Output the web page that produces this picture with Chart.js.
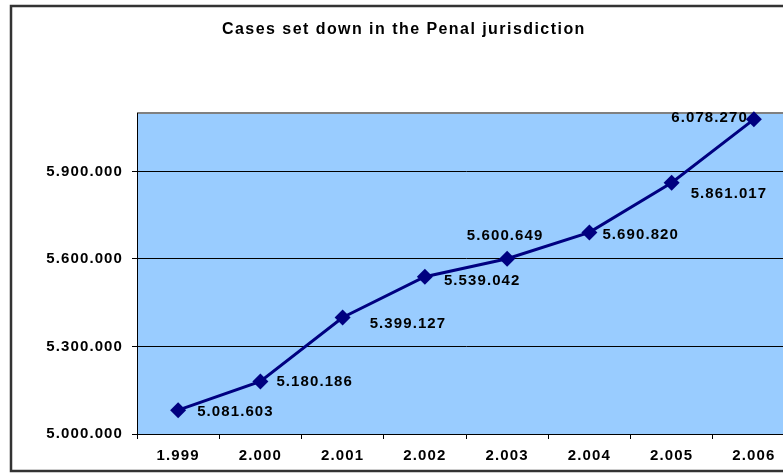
<!DOCTYPE html>
<html>
<head>
<meta charset="utf-8">
<script src="https://cdn.jsdelivr.net/npm/chart.js@4"></script>
<style>
  html, body { margin: 0; padding: 0; background: #ffffff; overflow: hidden; }
  #wrap { position: absolute; left: 0; top: 0; width: 820px; height: 474px; }
</style>
</head>
<body>
<div id="wrap"><canvas id="penal-chart" width="820" height="474"></canvas></div>
<script>
// Data
const years = ['1.999', '2.000', '2.001', '2.002', '2.003', '2.004', '2.005', '2.006'];
const casesSetDown = [5081603, 5180186, 5399127, 5539042, 5600649, 5690820, 5861017, 6078270];
const yTicks = [5000000, 5300000, 5600000, 5900000];
const chartTitle = 'Cases set down in the Penal jurisdiction';

// where each value label sits next to its point: [dx, dy, align]
const labelPlace = [
    [19, 2, 'left'], [16, 0, 'left'], [27, 6, 'left'], [19, 4, 'left'],
    [-2, -23, 'center'], [13, 2, 'left'], [19, 11, 'left'], [-6, -1, 'right']
];

const FONT = 'Arial, "Liberation Sans", sans-serif';
const SPACING = '1.1px';

function fmt(v) {
    return String(v).replace(/\B(?=(\d{3})+(?!\d))/g, '.');
}

// frame, plot background, title and value labels
const excelLook = {
    id: 'excelLook',
    beforeDraw(chart) {
        const ctx = chart.ctx;
        const a = chart.chartArea;
        ctx.save();
        ctx.fillStyle = '#ffffff';
        ctx.fillRect(0, 0, chart.width, chart.height);
        ctx.fillStyle = '#99ccff';
        ctx.fillRect(a.left, a.top, a.right - a.left, a.bottom - a.top);
        ctx.strokeStyle = '#808080';
        ctx.lineWidth = 2;
        ctx.beginPath();
        ctx.moveTo(a.left, a.top);
        ctx.lineTo(a.right, a.top);
        ctx.stroke();
        ctx.strokeStyle = '#333333';
        ctx.lineWidth = 2.5;
        ctx.strokeRect(11, 6, 800, 465);
        ctx.letterSpacing = '1.45px';
        ctx.fillStyle = '#000000';
        ctx.font = 'bold 16px ' + FONT;
        ctx.textAlign = 'left';
        ctx.textBaseline = 'middle';
        ctx.fillText(chartTitle, 222, 30);
        ctx.restore();
        ctx.letterSpacing = SPACING;
    },
    afterDatasetsDraw(chart) {
        const ctx = chart.ctx;
        const pts = chart.getDatasetMeta(0).data;
        ctx.save();
        ctx.letterSpacing = SPACING;
        ctx.fillStyle = '#000000';
        ctx.font = 'bold 15px ' + FONT;
        ctx.textBaseline = 'middle';
        pts.forEach((p, i) => {
            const pl = labelPlace[i];
            ctx.textAlign = pl[2];
            ctx.fillText(fmt(casesSetDown[i]), p.x + pl[0], p.y + pl[1]);
        });
        ctx.restore();
    }
};

const ctx = document.getElementById('penal-chart').getContext('2d');

const penalChart = new Chart(ctx, {
    type: 'line',
    data: {
        labels: years,
        datasets: [{
            label: 'Cases set down',
            data: casesSetDown,
            borderColor: '#000080',
            borderWidth: 3,
            tension: 0,
            pointStyle: 'rectRot',
            pointRadius: 8,
            pointHoverRadius: 8,
            pointBackgroundColor: '#000080',
            pointBorderColor: '#000080',
            pointBorderWidth: 0,
            clip: false
        }]
    },
    options: {
        responsive: false,
        animation: false,
        devicePixelRatio: 1,
        layout: { padding: { left: 0, top: 113, right: 25, bottom: 0 } },
        plugins: {
            legend: { display: false },
            title: { display: false },
            tooltip: { enabled: false }
        },
        scales: {
            x: {
                type: 'category',
                offset: true,
                grid: {
                    offset: true,
                    drawOnChartArea: false,
                    drawTicks: true,
                    tickLength: 5,
                    color: '#000000'
                },
                border: { display: true, color: '#000000', width: 1 },
                ticks: {
                    color: '#000000',
                    font: { family: FONT, size: 15, weight: 'bold' },
                    padding: 8,
                    maxRotation: 0,
                    autoSkip: false
                },
                afterFit(scale) { scale.height = 40; }
            },
            y: {
                min: 5000000,
                max: 6100000,
                grid: {
                    color: '#000000',
                    lineWidth: 1,
                    drawTicks: true,
                    tickLength: 5
                },
                border: { display: true, color: '#000000', width: 1 },
                ticks: {
                    color: '#000000',
                    font: { family: FONT, size: 15, weight: 'bold' },
                    padding: 9,
                    callback: (v) => fmt(v)
                },
                afterBuildTicks(scale) {
                    scale.ticks = yTicks.map(v => ({ value: v }));
                },
                afterFit(scale) { scale.width = 137; }
            }
        }
    },
    plugins: [excelLook]
});
</script>
</body>
</html>
